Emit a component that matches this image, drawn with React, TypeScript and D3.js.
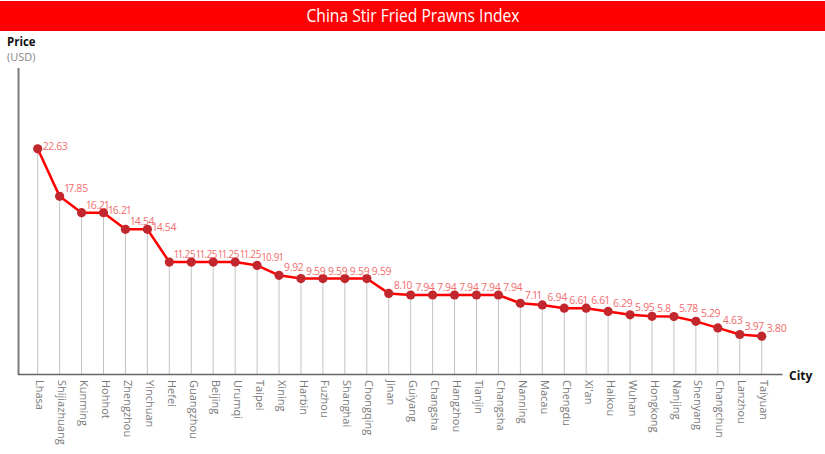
import React from "react";
import * as d3 from "d3";

const title = "China Stir Fried Prawns Index";

const cities = [
  "Lhasa", "Shijiazhuang", "Kunming", "Hohhot", "Zhengzhou", "Yinchuan", "Hefei",
  "Guangzhou", "Beijing", "Urumqi", "Taipei", "Xining", "Harbin", "Fuzhou",
  "Shanghai", "Chongqing", "Jinan", "Guiyang", "Changsha", "Hangzhou", "Tianjin",
  "Changsha", "Nanning", "Macau", "Chengdu", "Xi'an", "Haikou", "Wuhan",
  "Hongkong", "Nanjing", "Shenyang", "Changchun", "Lanzhou", "Taiyuan",
];

const prices = [
  22.63, 17.85, 16.21, 16.21, 14.54, 14.54, 11.25, 11.25, 11.25, 11.25, 10.91,
  9.92, 9.59, 9.59, 9.59, 9.59, 8.1, 7.94, 7.94, 7.94, 7.94, 7.94, 7.11, 6.94,
  6.61, 6.61, 6.29, 5.95, 5.8, 5.78, 5.29, 4.63, 3.97, 3.8,
];

const priceLabels = [
  "22.63", "17.85", "16.21", "16.21", "14.54", "14.54", "11.25", "11.25", "11.25",
  "11.25", "10.91", "9.92", "9.59", "9.59", "9.59", "9.59", "8.10", "7.94", "7.94",
  "7.94", "7.94", "7.94", "7.11", "6.94", "6.61", "6.61", "6.29", "5.95", "5.8",
  "5.78", "5.29", "4.63", "3.97", "3.80",
];

// label placement: "right" = beside the dot, "top" = above-right
const labelSide = cities.map((_, i) => ([0, 3, 5].includes(i) ? "right" : "top"));

const W = 825;
const H = 454;
const FONT = "'Open Sans', 'Noto Sans', sans-serif";

export default function App() {
  const idx = cities.map((_, i) => i);
  const x = d3.scalePoint<number>().domain(idx).range([37.7, 761.7]);
  const y = d3.scaleLinear().domain([0, 30.75]).range([374, 68]);
  const line = d3
    .line<number>()
    .x((i) => x(i) as number)
    .y((i) => y(prices[i]));

  const axisY = y(0);
  const step = x.step();

  return (
    <svg
      width={W}
      height={H}
      style={{ position: "absolute", left: 0, top: 0, background: "#fff" }}
      fontFamily={FONT}
    >
      <rect x={0} y={1} width={W} height={30} fill="#ff0000" />
      <text
        x={413}
        y={21.5}
        textAnchor="middle"
        fill="#fff"
        fontSize={18}
        textLength={213}
        lengthAdjust="spacingAndGlyphs"
      >
        {title}
      </text>

      <text x={7} y={45.5} fontSize={11.5} fontWeight="bold" fill="#111">
        Price
      </text>
      <text x={7} y={61} fontSize={11} fill="#888">
        (USD)
      </text>

      {/* drop lines */}
      {idx.map((i) => (
        <line
          key={"d" + i}
          x1={x(i)}
          x2={x(i)}
          y1={y(prices[i])}
          y2={axisY}
          stroke="#c4c4c4"
          strokeWidth={1}
        />
      ))}

      {/* axes */}
      <line x1={18.5} x2={18.5} y1={68} y2={375} stroke="#7a7a7a" strokeWidth={2} />
      <line x1={18} x2={782.5} y1={374.5} y2={374.5} stroke="#666" strokeWidth={1.5} />
      <text x={789} y={379.5} fontSize={12} fontWeight="bold" fill="#111">
        City
      </text>

      {/* tick labels */}
      {idx.map((i) => (
        <text
          key={"t" + i}
          transform={`translate(${x(i)},380) rotate(90)`}
          dy="0.13em"
          fontSize={11}
          fill="#7a7a7a"
        >
          {cities[i]}
        </text>
      ))}

      <path d={line(idx) || ""} fill="none" stroke="#ff0000" strokeWidth={2.5} strokeLinejoin="round" />

      {idx.map((i) => (
        <circle key={"c" + i} cx={x(i)} cy={y(prices[i])} r={4.6} fill="#c1272d" />
      ))}

      {idx.map((i) => {
        const txt = priceLabels[i];
        const nextTop = i + 1 < prices.length && labelSide[i + 1] === "top";
        const fit = txt.length >= 5 && nextTop && Math.abs(prices[i] - (prices[i + 1] ?? 0)) < 1.5;
        return (
          <text
            key={"l" + i}
            x={(x(i) as number) + 5}
            y={y(prices[i]) + (labelSide[i] === "right" ? 1.5 : -4)}
            fontSize={10.5}
            fill="#f26d6d"
            letterSpacing={-0.3}
            style={{ fontVariantNumeric: "proportional-nums" }}
            {...(fit ? { textLength: step - 1, lengthAdjust: "spacingAndGlyphs" } : {})}
          >
            {txt}
          </text>
        );
      })}
    </svg>
  );
}
